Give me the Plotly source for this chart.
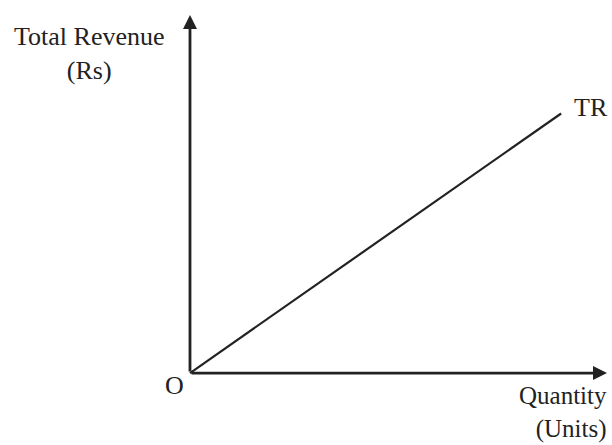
import plotly.graph_objects as go

# TR line: straight from origin
quantity = [0, 8.9]
revenue = [0, 7.25]

x_title = "Quantity<br>(Units)"
y_title = "Total Revenue<br>(Rs)"
line_name = "TR"

ink = "#222222"
font = dict(family="Liberation Serif", size=26, color=ink)

fig = go.Figure()
fig.add_trace(go.Scatter(x=quantity, y=revenue, mode="lines",
                         line=dict(color=ink, width=2.2), showlegend=False,
                         hoverinfo="skip"))

# axes as arrows
fig.add_annotation(x=10.0, y=0, ax=0, ay=0, xref="x", yref="y", axref="x", ayref="y",
                   showarrow=True, arrowhead=2, arrowsize=1.0, arrowwidth=2.8,
                   arrowcolor=ink, text="")
fig.add_annotation(x=0, y=10.0, ax=0, ay=0, xref="x", yref="y", axref="x", ayref="y",
                   showarrow=True, arrowhead=2, arrowsize=1.0, arrowwidth=2.8,
                   arrowcolor=ink, text="")

fig.add_annotation(x=-2.4, y=8.92, text=y_title, showarrow=False, font=font,
                   xanchor="center", yanchor="middle", align="center")
fig.add_annotation(x=10.02, y=-1.1, text=x_title, showarrow=False,
                   font=dict(family="Liberation Serif", size=25, color=ink),
                   xanchor="right", yanchor="middle", align="right", borderpad=0)
fig.add_annotation(x=-0.36, y=-0.335, text="O", showarrow=False, font=font,
                   xanchor="center", yanchor="middle")
fig.add_annotation(x=9.16, y=7.43, text=line_name, showarrow=False, font=font,
                   xanchor="left", yanchor="middle")

# axis ranges cover the whole figure (no margins)
fig.update_xaxes(range=[-4.556, 10.12], visible=False, fixedrange=True)
fig.update_yaxes(range=[-2.01, 10.42], visible=False, fixedrange=True)
fig.update_layout(width=612, height=445,
                  margin=dict(l=0, r=0, t=0, b=0),
                  plot_bgcolor="white", paper_bgcolor="white")

fig.write_html("out.html", config={"displayModeBar": False},
               post_script="document.body.style.margin='0';")
